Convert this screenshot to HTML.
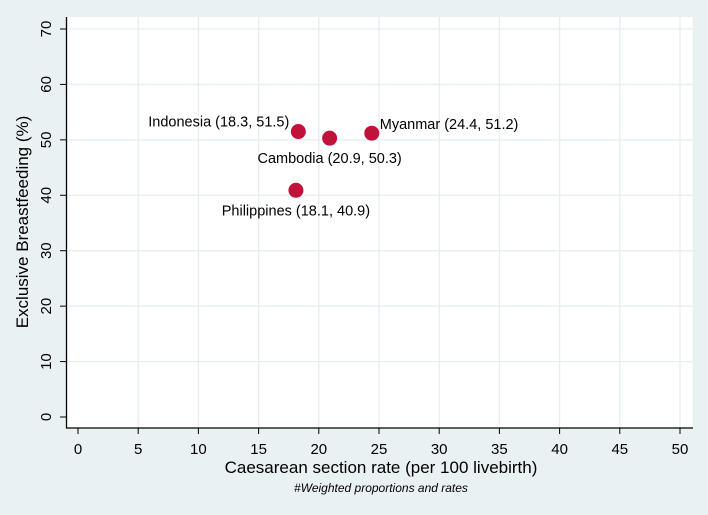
<!DOCTYPE html>
<html><head><meta charset="utf-8"><style>
body{margin:0;background:#eaf1f3;}
svg{display:block;font-family:"Liberation Sans",sans-serif;}
</style></head><body>
<svg id="chart" width="708" height="515">
<rect x="0" y="0" width="708" height="515" fill="#eaf1f3"/>
<rect x="66.5" y="17" width="626" height="411" fill="#fff"/>
<g id="grid"></g><g id="axes"></g><g id="points"></g>
<text x="381" y="473" font-size="17" text-anchor="middle">Caesarean section rate (per 100 livebirth)</text>
<text transform="translate(28,222) rotate(-90)" font-size="17" text-anchor="middle">Exclusive Breastfeeding (%)</text>
<text x="381" y="492" font-size="12" font-style="italic" text-anchor="middle">#Weighted proportions and rates</text>
</svg>
<script>
const countries=["Indonesia","Cambodia","Myanmar","Philippines"];
const csRate=[18.3,20.9,24.4,18.1];
const ebf=[51.5,50.3,51.2,40.9];
const xTicks=[0,5,10,15,20,25,30,35,40,45,50];
const yTicks=[0,10,20,30,40,50,60,70];
const labelPos=["left","below","right","below"];
const NS="http://www.w3.org/2000/svg";
function X(v){return 78+v*12.04;}
function Y(v){return 417-v*5.543;}
function mk(tag,at,parent,txt){const e=document.createElementNS(NS,tag);for(const k in at)e.setAttribute(k,at[k]);if(txt!==undefined)e.textContent=txt;parent.appendChild(e);return e;}
const grid=document.getElementById('grid'),axes=document.getElementById('axes'),pts=document.getElementById('points');
xTicks.forEach(t=>{
 if(t>0){const g=mk('line',{x1:X(t),x2:X(t),y1:17,y2:428,stroke:'#e6eef0','stroke-width':1.3},grid);
 
 }
 const tk=mk('line',{x1:X(t),x2:X(t),y1:428,y2:434,stroke:'#000','stroke-width':1},axes);
 
 
 const l=mk('text',{x:X(t),y:454,'font-size':15,'text-anchor':'middle'},axes,t);
 
 
});
yTicks.forEach(t=>{
 if(t>0){const g=mk('line',{x1:66.5,x2:692.5,y1:Y(t),y2:Y(t),stroke:'#e6eef0','stroke-width':1.3},grid);
 
 }
 const tk=mk('line',{x1:60,x2:66.5,y1:Y(t),y2:Y(t),stroke:'#000','stroke-width':1},axes);
 
 
 const l=mk('text',{transform:`translate(51,${Y(t)}) rotate(-90)`,'font-size':15,'text-anchor':'middle'},axes,t);
 
 
});
const ax=mk('path',{d:'M66.5,17V428H693',fill:'none',stroke:'#000','stroke-width':1.3},axes);


countries.forEach((c,i)=>{
 const x=X(csRate[i]),y=Y(ebf[i]);
 const p=mk('circle',{cx:x,cy:y,r:7.5,fill:'#c1133a'},pts);
 
 
 const txt=`${c} (${csRate[i]}, ${ebf[i]})`;
 let at;
 if(labelPos[i]==='left')at={x:x-9,y:y-5,'text-anchor':'end'};
 else if(labelPos[i]==='right')at={x:x+8,y:y-4,'text-anchor':'start'};
 else at={x:x,y:y+25,'text-anchor':'middle'};
 at['font-size']=14.5;
 const l=mk('text',at,pts,txt);
 
 
});
</script>
</body></html>
